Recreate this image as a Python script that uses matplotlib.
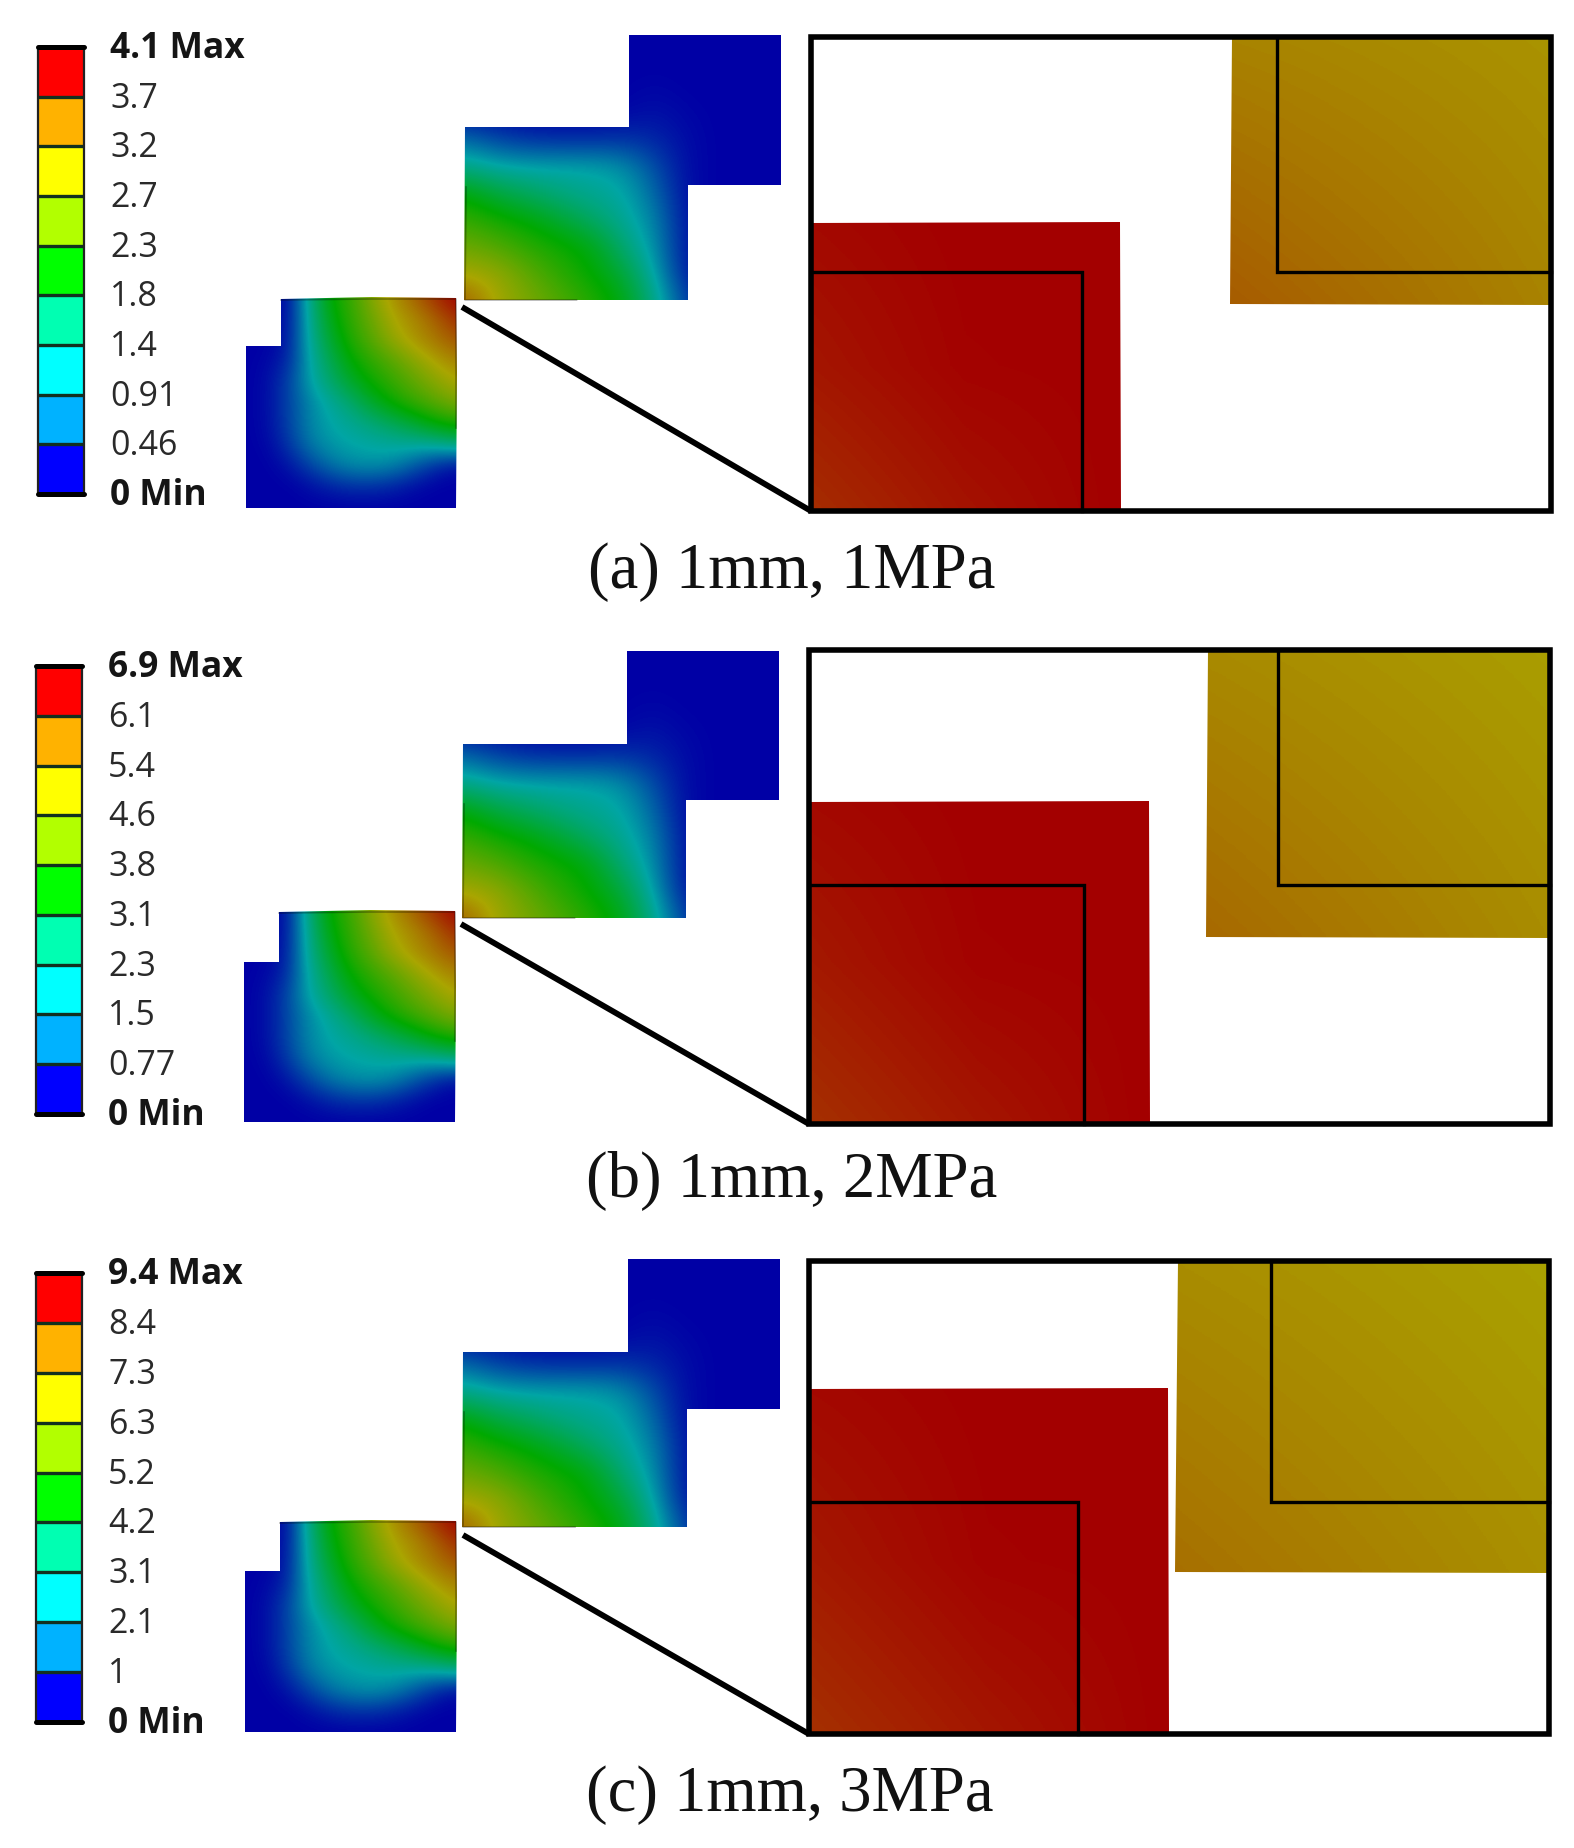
import numpy as np
import matplotlib
matplotlib.use("Agg")
import matplotlib.pyplot as plt
from matplotlib.colors import LinearSegmentedColormap
from matplotlib.patches import Polygon, Rectangle

# ---------- values ----------
captions = ["(a) 1mm, 1MPa", "(b) 1mm, 2MPa", "(c) 1mm, 3MPa"]
labels_a = ["4.1 Max", "3.7", "3.2", "2.7", "2.3", "1.8", "1.4", "0.91", "0.46", "0 Min"]
labels_b = ["6.9 Max", "6.1", "5.4", "4.6", "3.8", "3.1", "2.3", "1.5", "0.77", "0 Min"]
labels_c = ["9.4 Max", "8.4", "7.3", "6.3", "5.2", "4.2", "3.1", "2.1", "1", "0 Min"]
band_colors = ["#ff0000", "#ffb200", "#ffff00", "#b2ff00", "#00ff00",
               "#00ffb2", "#00ffff", "#00b2ff", "#0000ff"]

# normalised contour level sampled on a grid over the lower part (top row first)
lower_field = [
    [0, 0, .02, .30, .50, .58, .70, .78, .85, .93, 1.0],
    [0, 0, .03, .28, .47, .57, .66, .75, .79, .85, .93],
    [0, 0, .04, .27, .43, .55, .63, .72, .78, .82, .87],
    [0, .01, .06, .25, .38, .50, .57, .63, .70, .76, .80],
    [0, .02, .10, .24, .34, .44, .52, .58, .64, .70, .75],
    [0, .02, .10, .20, .27, .34, .44, .52, .58, .63, .68],
    [0, .02, .10, .20, .25, .28, .32, .37, .43, .50, .54],
    [0, .01, .08, .18, .23, .25, .26, .27, .27, .28, .32],
    [0, 0, .03, .10, .17, .21, .22, .20, .14, .07, .02],
    [0, 0, 0, .02, .05, .07, .07, .05, .02, 0, 0],
    [0, 0, 0, 0, 0, 0, 0, 0, 0, 0, 0],
]
# same for the upper part
upper_field = [
    [0, 0, 0, 0, 0, 0, 0, 0, 0, 0, 0],
    [0, 0, 0, 0, 0, 0, 0, 0, 0, 0, 0],
    [0, 0, 0, 0, 0, 0, .01, 0, 0, 0, 0],
    [.02, .01, 0, 0, 0, .01, .03, .01, 0, 0, 0],
    [.17, .11, .08, .07, .07, .08, .06, .02, 0, 0, 0],
    [.30, .26, .25, .25, .25, .22, .12, .02, 0, 0, 0],
    [.49, .41, .36, .31, .28, .26, .16, .02, 0, 0, 0],
    [.58, .53, .49, .43, .35, .28, .20, .03, 0, 0, 0],
    [.66, .62, .56, .52, .48, .33, .22, .03, 0, 0, 0],
    [.74, .72, .64, .56, .50, .42, .25, .04, 0, 0, 0],
    [.86, .74, .68, .62, .55, .48, .30, .10, 0, 0, 0],
]
# zoomed views, top row first
red_a = [[.985, 1.0, 1.0], [.965, .995, 1.0], [.93, .97, 1.0]]
red_b = [[.985, 1.0, 1.0], [.96, .995, 1.0], [.925, .965, 1.0]]
red_c = [[.985, 1.0, 1.0], [.96, .995, 1.0], [.925, .965, 1.0]]
gold_a = [[.80, .775], [.86, .80]]
gold_b = [[.79, .76], [.84, .785]]
gold_c = [[.785, .755], [.83, .78]]

# ---------- layout (pixels) ----------
panels = [
    dict(labels=labels_a, red=red_a, gold=gold_a, cap=(792, 572),
         bar=(38, 84, 47, 494), tx=110,
         low=(246, 456, 508, 346, 281, 298),
         up=(465, 781, 35, 127, 629, 185, 688, 300),
         frame=(811, 1551, 37, 511), redr=(1120, 222, 1082, 272),
         goldr=(1232, 1230, 304, 1277, 272), ptr=(462, 307)),
    dict(labels=labels_b, red=red_b, gold=gold_b, cap=(792, 1181),
         bar=(36, 82, 666, 1114), tx=108,
         low=(244, 455, 1122, 962, 279, 911),
         up=(463, 779, 651, 744, 627, 800, 686, 918),
         frame=(809, 1550, 650, 1124), redr=(1149, 801, 1084, 885),
         goldr=(1208, 1206, 937, 1278, 885), ptr=(461, 924)),
    dict(labels=labels_c, red=red_c, gold=gold_c, cap=(790, 1795),
         bar=(36, 82, 1273, 1722), tx=108,
         low=(245, 456, 1732, 1571, 280, 1521),
         up=(463, 780, 1259, 1352, 628, 1409, 687, 1527),
         frame=(809, 1549, 1261, 1734), redr=(1168, 1388, 1078, 1502),
         goldr=(1178, 1175, 1572, 1271, 1502), ptr=(463, 1535)),
]

cmap = LinearSegmentedColormap.from_list("ansys", [
    (0.00, (0, 0, 165 / 255)),
    (0.25, (0, 165 / 255, 165 / 255)),
    (0.50, (0, 170 / 255, 0)),
    (0.75, (170 / 255, 165 / 255, 0)),
    (1.00, (163 / 255, 0, 0)),
])

fig = plt.figure(figsize=(15.74, 18.48), dpi=100, facecolor="white")
ax = fig.add_axes([0, 0, 1, 1])
ax.axis("off")


def field(values, l, r, t, b, poly, z=2, interp="bicubic"):
    v = np.asarray(values, float)
    dx = (r - l) / (v.shape[1] - 1)
    dy = (b - t) / (v.shape[0] - 1)
    im = ax.imshow(v, cmap=cmap, vmin=0, vmax=1, origin="upper", aspect="auto",
                   interpolation=interp, zorder=z,
                   extent=(l - dx / 2, r + dx / 2, b + dy / 2, t - dy / 2))
    patch = Polygon(poly, closed=True, transform=ax.transData, fc="none", ec="none")
    ax.add_patch(patch)
    im.set_clip_path(patch)


for k, p in enumerate(panels):
    # legend
    x0, x1, y0, y1 = p["bar"]
    n = len(band_colors)
    h = (y1 - y0) / n
    for i, c in enumerate(band_colors):
        ax.add_patch(Rectangle((x0, y0 + i * h), x1 - x0, h, fc=c, ec="none", zorder=3))
        if i:
            ax.plot([x0, x1], [y0 + i * h] * 2, color="#12301f", lw=2.4, zorder=4,
                    solid_capstyle="butt")
    ax.plot([x0, x0], [y0, y1], color="#222222", lw=1.6, zorder=4)
    ax.plot([x1, x1], [y0, y1], color="#222222", lw=1.6, zorder=4)
    ax.plot([x0, x1], [y0, y0], color="black", lw=3.6, zorder=5, solid_capstyle="round")
    ax.plot([x0, x1], [y1, y1], color="black", lw=3.6, zorder=5, solid_capstyle="round")
    for i, lab in enumerate(p["labels"]):
        bold = "M" in lab
        ax.text(p["tx"], y0 + i * h + 2, lab, fontsize=25.5 if bold else 24.5,
                family="Open Sans", fontweight="bold" if bold else "normal",
                color="#151515" if bold else "#2a2a2a", va="center", ha="left", zorder=6)

    # lower part
    l, r, b, ny, nx, t = p["low"]
    low_poly = [(l, b), (l, ny), (nx, ny), (nx, t + 1), (l + (r - l) * .6, t - 1), (r, t),
                (r + 1, (t + b) / 2 - 30), (r, b)]
    field(lower_field, l, r, t, b, low_poly)
    ax.plot([nx, (nx + r) / 2, r, r, r], [t + 2, t + 1, t + 1, t + 60, t + 130],
            color="black", alpha=.3, lw=1.2, zorder=3)

    # upper part
    l, r, t, ny, nx, sy, rx, b = p["up"]
    up_poly = [(l - 1, b), (l, ny), (nx, ny), (nx, t), (r, t), (r, sy), (rx, sy), (rx, b)]
    field(upper_field, l, r, t, b, up_poly)
    ax.plot([l + 1, l, (l + rx) / 2], [ny + 60, b, b], color="black", alpha=.3, lw=1.2, zorder=3)

    # zoom view
    fl, fr, ft, fb = p["frame"]
    rr, rt, ri, rit = p["redr"]
    field(p["red"], fl, rr, rt, fb, [(fl, fb), (fl, rt + 1), (rr, rt), (rr + 1, fb)], interp="bilinear")
    gt, gb, gy, gi, git = p["goldr"]
    field(p["gold"], gb, fr, ft, gy + 1, [(gt, ft), (fr, ft), (fr, gy + 1), (gb, gy)], interp="bilinear")
    ax.plot([fl, ri, ri], [rit, rit, fb], color="black", lw=2.4, zorder=6, solid_joinstyle="miter")
    ax.plot([gi, gi, fr], [ft, git, git], color="black", lw=2.4, zorder=6, solid_joinstyle="miter")
    ax.add_patch(Rectangle((fl, ft), fr - fl, fb - ft, fc="none", ec="black", lw=4.0, zorder=7))
    ax.plot([p["ptr"][0], fl], [p["ptr"][1], fb], color="black", lw=4.2, zorder=7,
            solid_capstyle="butt")

    ax.text(p["cap"][0], p["cap"][1], captions[k], fontsize=46.5,
            family="Liberation Serif", color="#111111", ha="center", va="center", zorder=8)

ax.set_xlim(0, 1574)
ax.set_ylim(1848, 0)
fig.savefig("out.png", dpi=100, facecolor="white")
